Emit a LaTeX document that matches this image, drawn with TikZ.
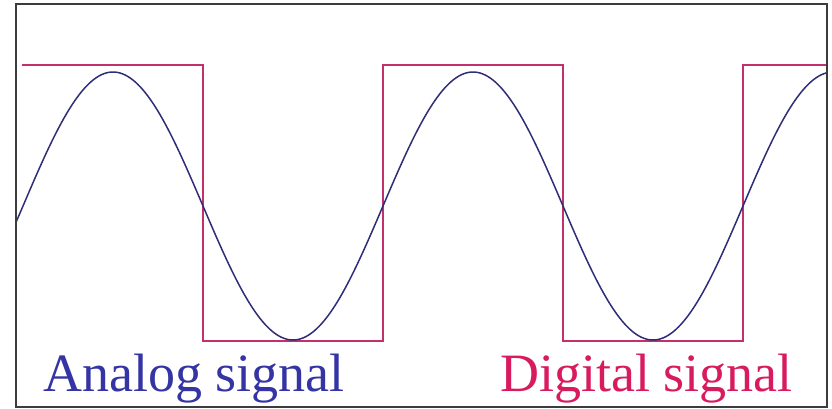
\documentclass[tikz,border=0pt]{standalone}
\usepackage{fontspec}
\setmainfont{Liberation Serif}
\definecolor{framegray}{HTML}{3C3C3C}
\definecolor{sinecol}{HTML}{2E2E78}
\definecolor{sqcol}{HTML}{C2306E}
\definecolor{analogcol}{HTML}{3434A4}
\definecolor{digitalcol}{HTML}{D81B5E}
\begin{document}
\begin{tikzpicture}[x=1pt,y=-1pt,
  framebox/.style={draw=framegray,line width=2.4pt},
  sqwave/.style={draw=sqcol,line width=1.3pt},
  sinewave/.style={draw=sinecol,line width=1.5pt},
  lbl/.style={font=\fontsize{54}{60}\selectfont,inner sep=0pt,anchor=base west}]
\useasboundingbox (0,0) rectangle (832,409);
\fill[white] (0,0) rectangle (832,409);
\draw[sqwave] (22,65) -- (203,65) -- (203,341) -- (383,341) -- (383,65) -- (563,65) -- (563,341) -- (743,341) -- (743,65) -- (827,65);
\draw[sinewave] plot[domain=16:827,samples=400,smooth] (\x,{206-134*sin(\x-23)});
\draw[framebox] (16,4) rectangle (827,407);
\node[lbl,text=analogcol] (analog) at (43,391) {Analog signal};
\node[lbl,text=digitalcol] (digital) at (500,391) {Digital signal};
\end{tikzpicture}
\end{document}
